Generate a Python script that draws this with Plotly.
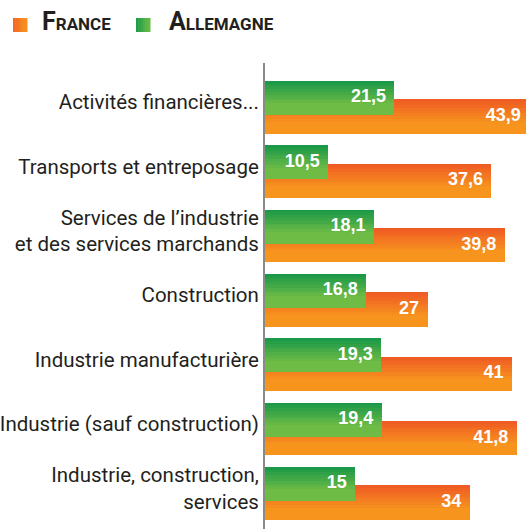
import plotly.graph_objects as go

categories = [
    "Activités financières...",
    "Transports et entreposage",
    "Services de l’industrie<br>et des services marchands",
    "Construction",
    "Industrie manufacturière",
    "Industrie (sauf construction)",
    "Industrie, construction,<br>services",
]
france = [43.9, 37.6, 39.8, 27, 41, 41.8, 34]
allemagne = [21.5, 10.5, 18.1, 16.8, 19.3, 19.4, 15]
series_names = ["France", "Allemagne"]

SCALE = 6.02          # pixels per unit on the value axis
XMAX = 44.0           # value-axis range end (the canvas is cut at 526 px)
ML, MT = 265, 63
H = 529
PW = round(XMAX * SCALE)
W = ML + PW
PH = H - MT


def px_x(p):
    return (p - ML) / PW


def px_y(p):
    return (H - p) / PH


def fmt(v):
    return f"{v:g}".replace(".", ",")


def lerp(c1, c2, t):
    return "rgb(%d,%d,%d)" % tuple(round(a + (b - a) * t) for a, b in zip(c1, c2))


ORANGE_TOP, ORANGE_BOT = (239, 88, 36), (247, 148, 30)
GREEN_TOP, GREEN_BOT = (22, 150, 72), (110, 188, 69)

idx = list(range(len(categories)))
offset = 0.144
bw = 0.52
N = 12

fig = go.Figure()

for vals, name, ctop, cbot, sign in [
    (france, series_names[0], ORANGE_TOP, ORANGE_BOT, 1),
    (allemagne, series_names[1], GREEN_TOP, GREEN_BOT, -1),
]:
    centers = [i + sign * offset for i in idx]
    for k in range(N):
        t = min(1.0, (k + 0.5) / N / 0.7)
        fig.add_trace(go.Bar(
            x=vals,
            y=[c - bw / 2 + (k + 0.5) * bw / N for c in centers],
            width=bw / N * 1.25,
            orientation="h",
            marker=dict(color=lerp(ctop, cbot, t), line=dict(width=0)),
            hoverinfo="skip",
            showlegend=False,
        ))
    # value labels
    fig.add_trace(go.Scatter(
        x=vals,
        y=centers,
        mode="markers+text",
        name=name,
        marker=dict(size=12, color="rgba(0,0,0,0)"),
        text=[fmt(v) for v in vals],
        textposition="middle left",
        textfont=dict(family="Liberation Sans", size=18, color="white", weight="bold"),
        cliponaxis=False,
        showlegend=False,
    ))

fig.update_layout(
    width=W,
    height=H,
    margin=dict(l=ML, r=0, t=MT, b=0, pad=0, autoexpand=False),
    paper_bgcolor="white",
    plot_bgcolor="white",
    barmode="overlay",
    bargap=0,
    showlegend=False,
    xaxis=dict(
        range=[0, XMAX],
        showgrid=False,
        zeroline=False,
        showticklabels=False,
        showline=False,
        fixedrange=True,
        automargin=False,
    ),
    yaxis=dict(
        range=[(H - 107.25) / 64.33, (MT - 107.25) / 64.33],
        tickvals=[i - 0.08 for i in idx],
        ticktext=categories,
        ticks="",
        ticklabelstandoff=0,
        tickfont=dict(family="Roboto", size=20.5, color="#231f20"),
        showgrid=False,
        zeroline=False,
        showline=True,
        linecolor="#8a8a8a",
        linewidth=2,
        fixedrange=True,
        automargin=False,
    ),
)

# legend (drawn by hand)
legend_items = [
    (series_names[0].upper(), (242, 101, 34), (247, 148, 30), 13, 40),
    (series_names[1].upper(), (26, 154, 72), (110, 188, 69), 136, 167),
]
for label, cl, cr, sx, tx in legend_items:
    ns = 6
    for k in range(ns):
        x0 = sx + k * 14 / ns
        fig.add_shape(type="rect", xref="paper", yref="paper",
                      x0=px_x(x0), x1=px_x(x0 + 14 / ns + 0.5),
                      y0=px_y(32), y1=px_y(18),
                      fillcolor=lerp(cl, cr, (k + 0.5) / ns), line=dict(width=0))
    fig.add_annotation(
        xref="paper", yref="paper", x=px_x(tx), y=px_y(38),
        xanchor="left", yanchor="bottom", showarrow=False,
        text="<b><span style='font-size:25px'>%s</span>%s</b>" % (label[0], label[1:]),
        font=dict(family="Roboto", size=17, color="#231f20"),
    )

fig.write_html("out.html", config={"displayModeBar": False},
               post_script="document.body.style.margin='0';document.body.style.overflow='hidden';")
